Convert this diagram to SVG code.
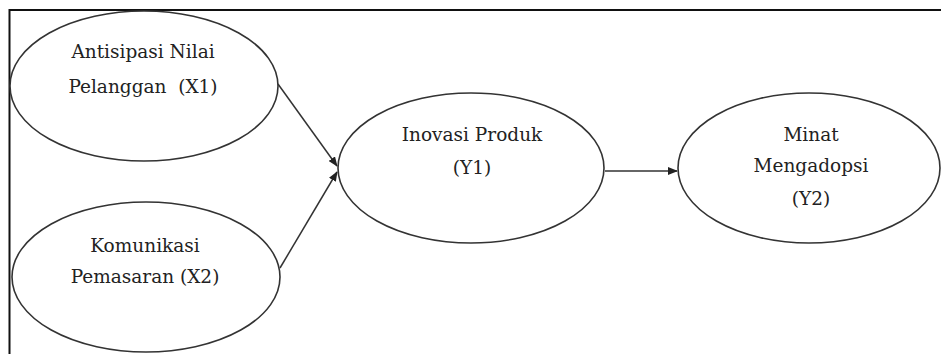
<svg xmlns="http://www.w3.org/2000/svg" width="941" height="354" viewBox="0 0 941 354">
<style>
.node ellipse{fill:#fff;stroke:#333;stroke-width:1.6}
.node text{font-family:'DejaVu Serif',serif;font-size:18.5px;fill:#222;text-anchor:middle}
.edge{stroke:#333;stroke-width:1.5;fill:none;marker-end:url(#ah)}
</style>
<defs>
<marker id="ah" markerWidth="10" markerHeight="8" refX="9" refY="4" orient="auto" markerUnits="userSpaceOnUse">
<path d="M0,0 L10,4 L0,8 Z" fill="#222"/>
</marker>
</defs>
<rect x="0" y="0" width="941" height="354" fill="#fff"/>
<path d="M9.5,354 L9.5,10 L941,10" fill="none" stroke="#111" stroke-width="2"/>
<g id="connectors">
<line class="edge" x1="278" y1="84" x2="337" y2="166"/>
<line class="edge" x1="280" y1="268" x2="337" y2="172"/>
<line class="edge" x1="605" y1="171" x2="677" y2="171"/>
</g>
<g id="x1" class="node">
<ellipse cx="144" cy="86" rx="134" ry="75"/>
<text x="143" y="58">Antisipasi Nilai</text>
<text x="143" y="93" xml:space="preserve">Pelanggan  (X1)</text>
</g>
<g id="x2" class="node">
<ellipse cx="146" cy="277" rx="134" ry="75"/>
<text x="145" y="252">Komunikasi</text>
<text x="145" y="283">Pemasaran (X2)</text>
</g>
<g id="y1" class="node">
<ellipse cx="471" cy="168" rx="133" ry="75"/>
<text x="472" y="141">Inovasi Produk</text>
<text x="472" y="174">(Y1)</text>
</g>
<g id="y2" class="node">
<ellipse cx="809" cy="168" rx="131" ry="75"/>
<text x="811" y="141">Minat</text>
<text x="811" y="172">Mengadopsi</text>
<text x="811" y="205">(Y2)</text>
</g>
</svg>
